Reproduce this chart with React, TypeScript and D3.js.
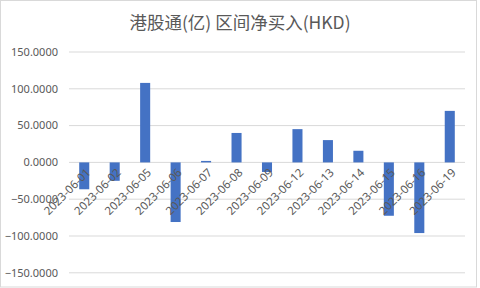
import React from "react";
import * as d3 from "d3";

const categories = [
  "2023-06-01", "2023-06-02", "2023-06-05", "2023-06-06", "2023-06-07",
  "2023-06-08", "2023-06-09", "2023-06-12", "2023-06-13", "2023-06-14",
  "2023-06-15", "2023-06-16", "2023-06-19",
];
const values = [-36.5, -25, 108, -81, 2, 40, -13, 45.2, 30.3, 15.8, -72.5, -96, 70];
const yTicks = [-150, -100, -50, 0, 50, 100, 150];
const title = "港股通(亿) 区间净买入(HKD)";

export default function App() {
  const W = 480, H = 288;
  const left = 69, right = 465, top = 52, bottom = 272.8;
  const x = d3.scaleBand<string>().domain(categories).range([left, right]).paddingInner(0.67).paddingOuter(0.335);
  const y = d3.scaleLinear().domain([-150, 150]).range([bottom, top]);
  const font = "'Noto Sans', 'Noto Sans CJK SC', sans-serif";
  const textColor = "#595959";
  const fmt = d3.format(".4f");
  return (
    <svg width={W} height={H} style={{ position: "absolute", left: 0, top: 0 }} fontFamily={font}>
      <rect x={0.5} y={0.5} width={W - 4} height={H - 1.5} fill="#fff" stroke="#d9d9d9" />
      <text x={240} y={29} textAnchor="middle" fontSize={17.5} fill={textColor} fontFamily="'Noto Sans CJK SC', sans-serif">
        {title}
      </text>
      {yTicks.map((t) => (
        <g key={t}>
          <line x1={left} x2={right} y1={y(t)} y2={y(t)} stroke="#d9d9d9" strokeWidth={1} />
          <text x={58} y={y(t)} dy="0.35em" textAnchor="end" fontSize={11} fill={textColor}>
            {fmt(t)}
          </text>
        </g>
      ))}
      {categories.map((c, i) => {
        const v = values[i];
        return (
          <rect key={c} x={x(c)} width={x.bandwidth()} y={y(Math.max(0, v))}
            height={Math.abs(y(v) - y(0))} fill="#4472C4" />
        );
      })}
      {categories.map((c) => {
        const cx = (x(c) as number) + x.bandwidth() / 2;
        return (
          <text key={c} transform={`translate(${cx + 4},${y(0) + 8}) rotate(-45)`} textAnchor="end"
            dy="0.35em" fontSize={11.5} fill={textColor}>
            {c}
          </text>
        );
      })}
    </svg>
  );
}
